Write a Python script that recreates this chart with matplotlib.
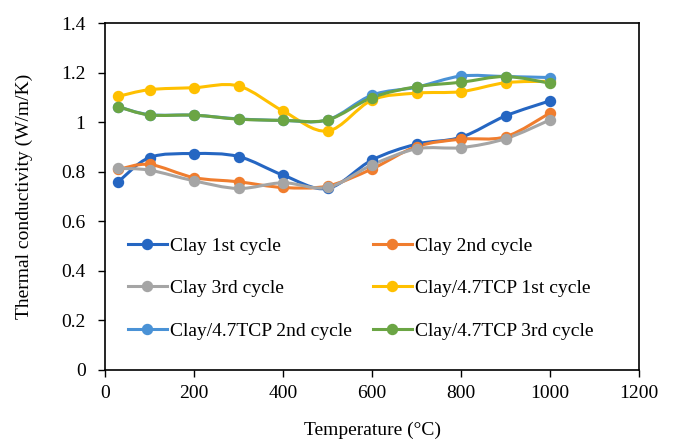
import numpy as np
import matplotlib.pyplot as plt
from matplotlib.path import Path
from matplotlib.patches import PathPatch
from matplotlib.lines import Line2D

plt.rcParams["font.family"] = ["Liberation Serif", "DejaVu Serif"]

# temperature (°C)
temps = [30, 100, 200, 300, 400, 500, 600, 700, 800, 900, 1000]

clay_1 = [0.76, 0.858, 0.874, 0.862, 0.787, 0.733, 0.848, 0.912, 0.94, 1.026, 1.087]
clay_2 = [0.81, 0.83, 0.777, 0.76, 0.737, 0.743, 0.812, 0.902, 0.932, 0.942, 1.038]
clay_3 = [0.814, 0.807, 0.764, 0.733, 0.756, 0.737, 0.828, 0.893, 0.898, 0.934, 1.01]
tcp_1 = [1.105, 1.132, 1.14, 1.147, 1.046, 0.965, 1.09, 1.118, 1.124, 1.16, 1.166]
tcp_2 = [1.063, 1.031, 1.029, 1.014, 1.008, 1.01, 1.11, 1.142, 1.187, 1.185, 1.181]
tcp_3 = [1.063, 1.03, 1.029, 1.013, 1.008, 1.01, 1.10, 1.144, 1.162, 1.185, 1.158]

series = [
    ("Clay 1st cycle", clay_1, "#2566C2"),
    ("Clay 2nd cycle", clay_2, "#F07D2E"),
    ("Clay 3rd cycle", clay_3, "#A5A5A5"),
    ("Clay/4.7TCP 1st cycle", tcp_1, "#FFC000"),
    ("Clay/4.7TCP 2nd cycle", tcp_2, "#4A92D6"),
    ("Clay/4.7TCP 3rd cycle", tcp_3, "#6BA544"),
]


def smooth_path(x, y):
    # bezier path like the "smoothed line" option of spreadsheet charts
    p = np.column_stack([x, y]).astype(float)
    pts = np.vstack([p[0], p, p[-1]])
    verts = [p[0]]
    codes = [Path.MOVETO]
    for i in range(1, len(pts) - 2):
        c1 = pts[i] + (pts[i + 1] - pts[i - 1]) / 6
        c2 = pts[i + 1] - (pts[i + 2] - pts[i]) / 6
        verts += [c1, c2, pts[i + 1]]
        codes += [Path.CURVE4] * 3
    return Path(verts, codes)


fig = plt.figure(figsize=(6.77, 4.44), dpi=100)
ax = fig.add_axes([0.1551, 0.1667, 0.7888, 0.7808])

handles = []
for label, vals, color in series:
    patch = PathPatch(smooth_path(temps, vals), facecolor="none", edgecolor=color,
                      lw=2.2, capstyle="round", joinstyle="round")
    ax.add_patch(patch)
    ax.plot(temps, vals, linestyle="none", marker="o", ms=7.2, color=color)
    handles.append(Line2D([], [], color=color, lw=2.2, marker="o", ms=7.2, label=label))

ax.set_xlim(0, 1200)
ax.set_ylim(0, 1.4)
ax.set_xticks(range(0, 1201, 200))
ax.set_yticks(np.arange(0, 1.41, 0.2))
ax.set_yticklabels(["0", "0.2", "0.4", "0.6", "0.8", "1", "1.2", "1.4"])
ax.tick_params(direction="out", length=5, width=1, labelsize=14, colors="black")
ax.tick_params(axis="x", pad=6)
ax.tick_params(axis="y", pad=9)
for s in ax.spines.values():
    s.set_linewidth(1.2)

ax.set_xlabel("Temperature (°C)", fontsize=14, labelpad=14)
ax.set_ylabel("Thermal conductivity (W/m/K)", fontsize=14, labelpad=20)

# legend fills rows first, like the original
order = [0, 2, 4, 1, 3, 5]
ax.legend(handles=[handles[i] for i in order], ncol=2, frameon=False, fontsize=14,
          loc="lower left", bbox_to_anchor=(0.01, 0.037),
          handlelength=2.0, handletextpad=0.15, columnspacing=1.1,
          labelspacing=1.28)

fig.savefig("out.png", dpi=100)
